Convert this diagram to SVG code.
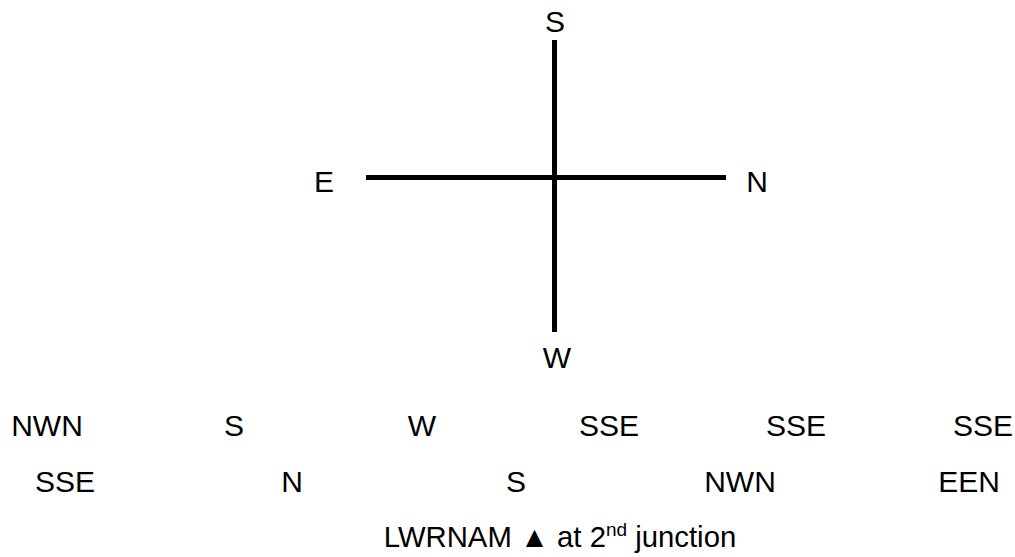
<svg xmlns="http://www.w3.org/2000/svg" width="1015" height="557" viewBox="0 0 1015 557">
<style>
text{font-family:"Liberation Sans",Arial,sans-serif;font-size:30px;fill:#000;text-anchor:middle}
.road{stroke:#000;stroke-width:5;fill:none}
</style>
<rect width="1015" height="557" fill="#fff"/>
<g id="connectors">
<line class="road" x1="554.5" y1="40" x2="554.5" y2="332"/>
<line class="road" x1="366" y1="177.5" x2="726" y2="177.5"/>
</g>
<g id="label-top"><text x="555" y="32">S</text></g>
<g id="label-left"><text x="324" y="192">E</text></g>
<g id="label-right"><text x="757" y="192">N</text></g>
<g id="label-bottom"><text x="557" y="368">W</text></g>
<g id="row1">
<text x="47" y="436">NWN</text>
<text x="234" y="436">S</text>
<text x="422" y="436">W</text>
<text x="609" y="436">SSE</text>
<text x="796" y="436">SSE</text>
<text x="983" y="436">SSE</text>
</g>
<g id="row2">
<text x="65" y="492">SSE</text>
<text x="292" y="492">N</text>
<text x="516" y="492">S</text>
<text x="740" y="492">NWN</text>
<text x="969" y="492">EEN</text>
</g>
<g id="caption">
<text x="560" y="547" style="font-size:29.3px">LWRNAM ▲ at 2<tspan dy="-11" font-size="19">nd</tspan><tspan dy="11"> junction</tspan></text>
</g>
</svg>
